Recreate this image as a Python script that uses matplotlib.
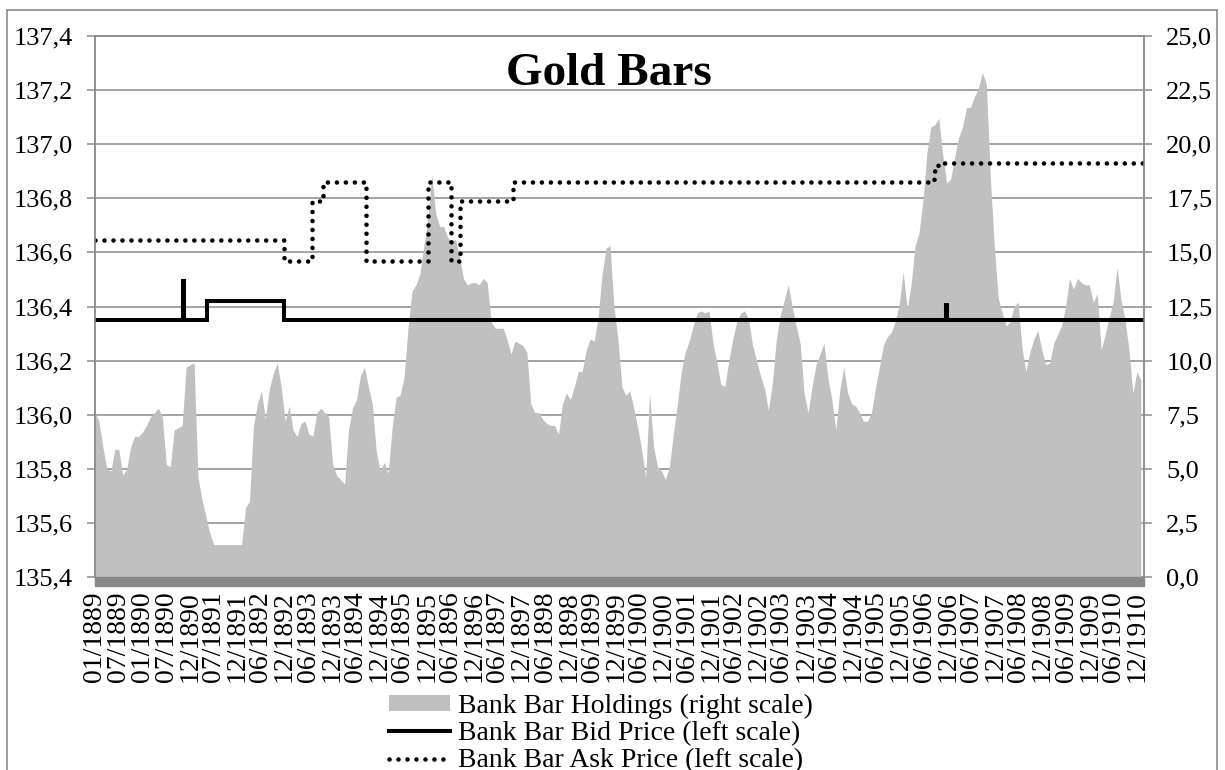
import matplotlib.pyplot as plt
import numpy as np
from matplotlib.patches import Patch, Rectangle
from matplotlib.lines import Line2D
from matplotlib.ticker import FuncFormatter, MultipleLocator

plt.rcParams['font.family'] = ['Liberation Serif', 'DejaVu Serif']

# bank bar holdings, one value per month from 01/1889 (right scale)
holdings = [
    7.6, 7.2, 6.0, 5.0, 4.9, 5.9, 5.9, 4.7, 5.0, 6.0,
    6.5, 6.5, 6.7, 7.0, 7.4, 7.6, 7.8, 7.4, 5.2, 5.1,
    6.8, 6.9, 7.0, 9.7, 9.8, 9.9, 4.6, 3.6, 2.8, 2.0,
    1.5, 1.5, 1.5, 1.5, 1.5, 1.5, 1.5, 1.5, 3.2, 3.5,
    7.0, 8.0, 8.6, 7.3, 8.7, 9.4, 9.9, 8.8, 7.2, 7.9,
    6.8, 6.5, 7.1, 7.2, 6.6, 6.5, 7.6, 7.8, 7.6, 7.4,
    5.2, 4.7, 4.5, 4.3, 6.8, 7.8, 8.2, 9.3, 9.7, 8.8,
    8.0, 5.8, 4.9, 5.3, 4.8, 6.9, 8.3, 8.4, 9.2, 11.5,
    13.2, 13.5, 14.0, 15.3, 16.5, 18.6, 16.8, 16.2, 16.2, 15.7,
    15.5, 15.6, 14.8, 13.8, 13.5, 13.6, 13.6, 13.5, 13.8, 13.6,
    11.8, 11.5, 11.5, 11.5, 11.0, 10.3, 10.9, 10.8, 10.7, 10.4,
    8.0, 7.6, 7.6, 7.3, 7.1, 7.0, 7.0, 6.6, 8.0, 8.5,
    8.2, 8.8, 9.5, 9.5, 10.5, 11.0, 10.9, 12.0, 14.0, 15.2,
    15.3, 12.5, 11.0, 8.8, 8.4, 8.6, 7.8, 6.9, 5.9, 4.6,
    8.5, 6.0, 5.1, 4.9, 4.5, 5.1, 6.6, 8.0, 9.5, 10.4,
    10.9, 11.6, 12.2, 12.3, 12.2, 12.3, 10.8, 9.9, 8.9, 8.8,
    10.0, 11.0, 11.8, 12.2, 12.3, 11.9, 10.7, 10.0, 9.3, 8.7,
    7.7, 9.0, 11.0, 12.1, 12.8, 13.5, 12.5, 11.6, 10.8, 8.5,
    7.6, 8.8, 9.8, 10.3, 10.8, 9.2, 8.2, 6.8, 8.6, 9.7,
    8.5, 8.0, 7.9, 7.6, 7.2, 7.2, 7.6, 8.7, 9.7, 10.7,
    11.1, 11.3, 11.8, 12.6, 14.1, 12.4, 13.5, 15.3, 15.9, 17.4,
    19.6, 20.8, 20.9, 21.2, 19.5, 18.2, 18.4, 19.4, 20.3, 20.8,
    21.7, 21.7, 22.2, 22.6, 23.3, 22.8, 18.5, 15.3, 12.9, 12.2,
    11.6, 11.8, 12.5, 12.7, 10.6, 9.5, 10.4, 11.0, 11.4, 10.5,
    9.8, 9.9, 10.8, 11.2, 11.6, 12.5, 13.8, 13.3, 13.8, 13.6,
    13.5, 13.5, 12.7, 13.1, 10.5, 11.2, 12.0, 12.7, 14.3, 12.8,
    11.9, 10.5, 8.5, 9.5, 9.1,
]

# bid / ask prices as steps: month where a level starts, and the level (left scale)
bid_start = [0, 22.2, 22.5, 28.2, 47.8, 214.7, 215.0]
bid_price = [136.35, 136.495, 136.35, 136.422, 136.35, 136.404, 136.35]
ask_start = [0, 47.8, 54.7, 57.6, 68.4, 84.1, 89.9, 92.1, 105.4, 211.7, 212.9]
ask_price = [136.644, 136.57, 136.79, 136.86, 136.57, 136.86, 136.57, 136.79,
             136.86, 136.90, 136.93]

tick_labels = [
    "01/1889", "07/1889", "01/1890", "07/1890", "12/1890", "07/1891", "12/1891",
    "06/1892", "12/1892", "06/1893", "12/1893", "06/1894", "12/1894", "06/1895",
    "12/1895", "06/1896", "12/1896", "06/1897", "12/1897", "06/1898", "12/1898",
    "06/1899", "12/1899", "06/1900", "12/1900", "06/1901", "12/1901", "06/1902",
    "12/1902", "06/1903", "12/1903", "06/1904", "12/1904", "06/1905", "12/1905",
    "06/1906", "12/1906", "06/1907", "12/1907", "06/1908", "12/1908", "06/1909",
    "12/1909", "06/1910", "12/1910",
]

x_end = 264.8
grid_col = "#8c8c8c"
fs = 19
dots = (0, (0.01, 1.95))

fig = plt.figure(figsize=(12.25, 7.7), dpi=100)
fig.patches.append(Rectangle((7 / 1225, -0.05), 1210 / 1225, 1 - 10 / 770 + 0.05,
                             transform=fig.transFigure, fill=False,
                             edgecolor=grid_col, linewidth=1.2))

ax = fig.add_axes([95 / 1225, 1 - 577 / 770, 1049 / 1225, 541 / 770])
ax2 = ax.twinx()

# area + grid on the right-scale axes, lines on top on the left-scale axes
ax.set_zorder(ax2.get_zorder() + 1)
ax.patch.set_visible(False)
ax2.patch.set_visible(True)
ax2.patch.set_facecolor("white")

months = np.arange(len(holdings))
ax2.fill_between(months, holdings, 0, color="#c0c0c0", linewidth=0, zorder=2)
ax2.set_ylim(0, 25)
ax2.yaxis.set_major_locator(MultipleLocator(2.5))
ax2.grid(axis="y", color=grid_col, linewidth=1.1, zorder=0)
ax2.set_axisbelow(True)
ax2.add_patch(Rectangle((0, -0.016), 1, 0.016, transform=ax2.transAxes,
                        color="#878787", clip_on=False, zorder=3))

ax.plot(bid_start + [x_end], bid_price + [bid_price[-1]], drawstyle="steps-post",
        color="black", linewidth=2.9, solid_joinstyle="miter")
ax.plot(ask_start + [x_end], ask_price + [ask_price[-1]], drawstyle="steps-post",
        color="black", linewidth=3.3, linestyle=dots, dash_capstyle="round")
ax.set_ylim(135.4, 137.4)
ax.yaxis.set_major_locator(MultipleLocator(0.2))
ax.set_xlim(0, x_end)

ax.set_xticks(np.arange(len(tick_labels)) * 5.98)
ax.set_xticklabels(tick_labels, rotation=90, fontsize=20)
ax.tick_params(axis="x", length=0, pad=10)
ax.tick_params(axis="y", length=6, width=1.1, color=grid_col, pad=10, labelsize=fs)
ax2.tick_params(axis="y", length=6, width=1.1, color=grid_col, pad=10, labelsize=fs)

comma = lambda fmt: FuncFormatter(lambda v, p: (fmt % v).replace(".", ","))
ax.yaxis.set_major_formatter(comma("%.1f"))
ax2.yaxis.set_major_formatter(comma("%.1f"))

for a in (ax, ax2):
    for side in ("left", "right", "top"):
        a.spines[side].set_color(grid_col)
        a.spines[side].set_linewidth(1.1)
    a.spines["bottom"].set_visible(False)

ax.text(0.49, 0.93, "Gold Bars", transform=ax.transAxes, ha="center", va="center",
        fontsize=34, fontweight="bold")

handles = [
    Patch(facecolor="#c0c0c0", edgecolor="none"),
    Line2D([], [], color="black", linewidth=2.9),
    Line2D([], [], color="black", linewidth=3.3, linestyle=dots, dash_capstyle="round"),
]
labels = ["Bank Bar Holdings (right scale)", "Bank Bar Bid Price (left scale)",
          "Bank Bar Ask Price (left scale)"]
fig.legend(handles, labels, loc="upper center", bbox_to_anchor=(601 / 1225, 1 - 680 / 770),
           frameon=False, fontsize=20, handlelength=2.2, handleheight=0.5,
           handletextpad=0.3, labelspacing=0.08, borderpad=0, alignment="left")

fig.savefig("out.png", dpi=100)
